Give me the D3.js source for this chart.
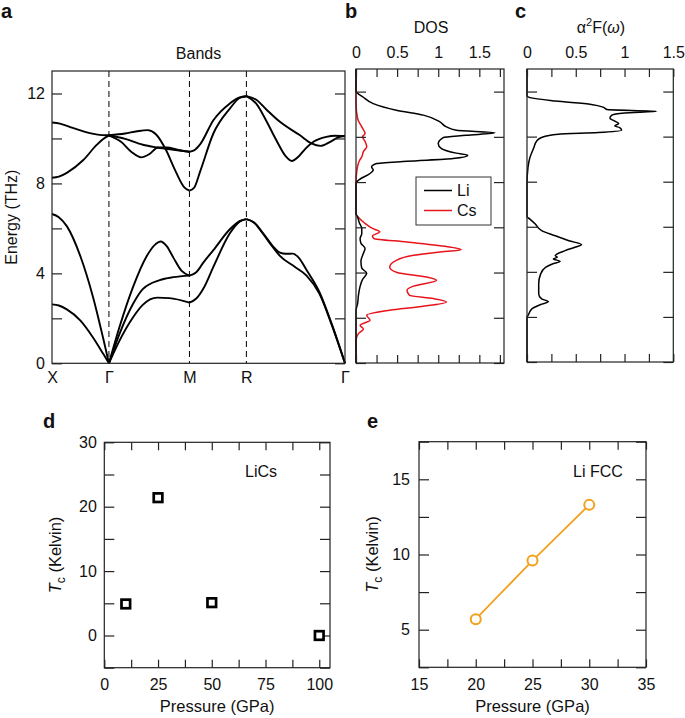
<!DOCTYPE html>
<html><head><meta charset="utf-8">
<script src="https://cdn.jsdelivr.net/npm/d3@7"></script>
<style>body{margin:0;background:#fff} svg{display:block;font-family:"Liberation Sans",Arial,Helvetica,sans-serif}</style>
</head><body><svg id="chart" width="685" height="718"></svg>
<script>
// ---------- DATA ----------
const kLabels = ["X","Γ","M","R","Γ"];
const kNodes = [0, 0.5, 1.2071, 1.7071, 2.5731];
const energyTicks = [0,2,4,6,8,10,12];
const energyLabels = [0,4,8,12];

// band branches per path segment: [fraction along segment, energy THz]
const bandsXG = [
  [[0,10.71],[0.14,10.66],[0.35,10.48],[0.58,10.29],[0.8,10.17],[1,10.14]],
  [[0,8.25],[0.12,8.3],[0.26,8.47],[0.55,9.04],[0.78,9.7],[0.9,9.98],[1,10.14]],
  [[0,6.64],[0.12,6.5],[0.26,6.1],[0.5,4.75],[0.72,2.95],[0.9,1.1],[1,0]],
  [[0,2.62],[0.12,2.57],[0.26,2.4],[0.5,1.9],[0.72,1.15],[0.9,0.42],[1,0]]
];
const bandsGM = [
  [[0,0],[0.13,1.6],[0.3,3.4],[0.465,4.74],[0.58,5.3],[0.64,5.42],[0.72,5.2],[0.8,4.7],[0.9,4.12],[1,3.9]],
  [[0,0],[0.13,1.3],[0.3,2.65],[0.42,3.3],[0.63,3.7],[0.8,3.83],[1,3.9]],
  [[0,0],[0.13,1.0],[0.3,2.05],[0.42,2.6],[0.6,2.92],[0.75,2.9],[1,2.7]],
  [[0,10.14],[0.2,10.22],[0.35,10.32],[0.48,10.37],[0.58,10.2],[0.7,9.55],[0.82,8.6],[0.93,7.85],[1,7.68]],
  [[0,10.14],[0.15,9.85],[0.28,9.4],[0.4,9.16],[0.5,9.3],[0.61,9.6],[0.72,9.6],[0.85,9.5],[1,9.41]],
  [[0,10.14],[0.2,9.98],[0.42,9.72],[0.6,9.6],[0.8,9.5],[1,9.41]]
];
const bandsMR = [
  [[0,7.68],[0.08,7.8],[0.19,8.55],[0.42,10.22],[0.71,11.33],[0.88,11.8],[1,11.88]],
  [[0,9.41],[0.08,9.47],[0.19,9.75],[0.42,10.81],[0.71,11.56],[0.88,11.83],[1,11.88]],
  [[0,3.9],[0.12,4.05],[0.25,4.5],[0.42,5.03],[0.71,5.96],[0.88,6.32],[1,6.41]],
  [[0,2.7],[0.12,2.88],[0.25,3.35],[0.42,4.29],[0.71,5.78],[0.88,6.3],[1,6.41]]
];
const bandsRG = [
  [[0,11.88],[0.1,11.55],[0.2,10.8],[0.3,9.95],[0.4,9.2],[0.46,9.0],[0.53,9.2],[0.6,9.55],[0.68,9.85],[0.81,10.07],[0.9,10.12],[1,10.1]],
  [[0,11.88],[0.1,11.72],[0.2,11.3],[0.34,10.74],[0.54,10.15],[0.66,9.78],[0.75,9.67],[0.85,9.85],[0.93,10.05],[1,10.12]],
  [[0,6.41],[0.08,6.25],[0.17,5.78],[0.28,5.15],[0.34,4.92],[0.4,4.87],[0.47,4.88],[0.53,4.7],[0.61,4.15],[0.74,3.18],[0.87,1.7],[1,0]],
  [[0,6.41],[0.08,6.25],[0.17,5.75],[0.28,5.1],[0.34,4.78],[0.49,4.29],[0.61,3.9],[0.74,3.1],[0.87,1.65],[1,0]]
];

// DOS: [energy THz, value]
const dosLi = [[0,0],[2.3,0],[2.64,0.02],[3.0,0.03],[3.39,0.05],[3.7,0.08],[3.97,0.13],[4.2,0.07],[4.5,0.06],[4.85,0.09],[5.06,0.11],[5.3,0.06],[5.5,0.05],[5.72,0.07],[5.95,0.07],[6.2,0.04],[6.45,0.02],[6.6,0],[7.96,0],[8.08,0.03],[8.38,0.17],[8.53,0.21],[8.67,0.19],[8.82,0.25],[8.92,0.62],[9.04,1.18],[9.19,1.36],[9.28,1.22],[9.48,1.04],[9.7,1.0],[9.97,1.06],[10.07,1.34],[10.18,1.69],[10.29,1.22],[10.44,1.10],[10.66,1.02],[10.96,0.82],[11.18,0.49],[11.47,0.21],[11.75,0.09],[12.03,0],[13,0]];
const dosCs = [[0,0],[1.0,0],[1.3,0.03],[1.5,0.09],[1.67,0.05],[1.89,0.17],[2.11,0.13],[2.33,0.41],[2.5,0.8],[2.7,1.10],[2.85,0.94],[3.0,0.65],[3.22,0.62],[3.4,0.7],[3.66,0.98],[3.8,0.86],[4.0,0.5],[4.25,0.41],[4.54,0.49],[4.76,0.70],[4.9,1.0],[5.01,1.28],[5.13,1.14],[5.35,0.62],[5.5,0.22],[5.62,0.2],[5.8,0.29],[5.95,0.2],[6.2,0.1],[6.4,0.04],[6.6,0],[7.96,0],[8.5,0.01],[9.0,0.05],[9.11,0.07],[9.35,0.09],[9.56,0.13],[9.8,0.11],[10.0,0.08],[10.15,0.11],[10.44,0.07],[10.8,0.02],[11.5,0],[13,0]];
const dosTicks = [0,0.25,0.5,0.75,1,1.25,1.5,1.75];
const dosLabels = [0,0.5,1,1.5];

// alpha^2 F(omega): [energy THz, value]
const a2F = [[0,0],[1.99,0],[2.06,0.01],[2.36,0.05],[2.55,0.14],[2.68,0.22],[2.8,0.15],[3.02,0.12],[3.47,0.12],[3.91,0.14],[4.2,0.19],[4.35,0.26],[4.47,0.34],[4.57,0.27],[4.65,0.31],[4.72,0.29],[4.94,0.39],[5.09,0.49],[5.21,0.56],[5.38,0.43],[5.6,0.29],[5.83,0.15],[6.12,0.085],[6.34,0.03],[6.45,0],[7.89,0],[8.63,0.01],[9.07,0.03],[9.51,0.07],[9.81,0.10],[9.96,0.15],[10.1,0.32],[10.18,0.73],[10.28,0.97],[10.4,0.95],[10.47,0.90],[10.58,0.94],[10.69,0.90],[10.81,0.85],[10.95,0.87],[11.05,1.0],[11.12,1.33],[11.2,0.82],[11.31,0.78],[11.43,0.66],[11.58,0.29],[11.73,0.03],[11.8,0],[13,0]];
const a2fTicks = [0,0.25,0.5,0.75,1,1.25,1.5];
const a2fLabels = [0,0.5,1,1.5];

// Panel d: LiCs Tc vs pressure
const licsPressure = [10, 25, 50, 100];
const licsTc = [4.9, 21.4, 5.1, 0];
const dXTicks = [0,12.5,25,37.5,50,62.5,75,87.5,100];
const dXLabels = [0,25,50,75,100];
const dYTicks = [-5,0,5,10,15,20,25,30];
const dYLabels = [0,10,20,30];

// Panel e: Li FCC Tc vs pressure
const liPressure = [20, 25, 30];
const liTc = [5.7, 9.6, 13.3];
const eXTicks = [15,17.5,20,22.5,25,27.5,30,32.5,35];
const eXLabels = [15,20,25,30,35];
const eYTicks = [2.5,5,7.5,10,12.5,15,17.5];
const eYLabels = [5,10,15];

// ---------- DRAW ----------
const svg = d3.select("#chart");
const FS = 16;
const frameColor = "#222";

function frame(x0,y0,x1,y1){
  svg.append("rect").attr("x",x0).attr("y",y0).attr("width",x1-x0).attr("height",y1-y0)
    .attr("fill","none").attr("stroke",frameColor).attr("stroke-width",1.2);
}
function axis(gen, tx, ty){
  const g = svg.append("g").attr("transform",`translate(${tx},${ty})`).call(gen);
  g.select(".domain").remove();
  g.selectAll(".tick line").attr("stroke",frameColor).attr("stroke-width",1.2);
  g.selectAll("text").attr("font-size",FS).attr("fill","#111")
    .attr("font-family",'"Liberation Sans",Arial,Helvetica,sans-serif');
  return g;
}
const fmt = labels => d => labels.includes(d) ? String(d) : "";
function txt(x,y,s,opts={}){
  const t = svg.append("text").attr("x",x).attr("y",y).text(s).attr("font-size",opts.size||FS).attr("fill","#111");
  if(opts.anchor) t.attr("text-anchor",opts.anchor);
  if(opts.bold) t.attr("font-weight","bold");
  return t;
}

// ===== Panel a: bands =====
const A = {x0:52,x1:345,y0:71,y1:363.3};
const xA = d3.scaleLinear().domain([kNodes[0], kNodes[4]]).range([A.x0, A.x1]);
const yA = d3.scaleLinear().domain([0,13]).range([A.y1, A.y0]);
const bandLine = d3.line().x(d=>xA(d[0])).y(d=>yA(d[1])).curve(d3.curveMonotoneX);
[bandsXG, bandsGM, bandsMR, bandsRG].forEach((seg,i)=>{
  const k0 = kNodes[i], k1 = kNodes[i+1];
  seg.forEach(branch=>{
    const pts = branch.map(p=>[k0 + p[0]*(k1-k0), p[1]]);
    svg.append("path").attr("d",bandLine(pts)).attr("fill","none").attr("stroke","#000").attr("stroke-width",1.9);
  });
});
[1,2,3].forEach(i=>{
  svg.append("line").attr("x1",xA(kNodes[i])).attr("x2",xA(kNodes[i])).attr("y1",A.y0).attr("y2",A.y1)
    .attr("stroke","#000").attr("stroke-width",1).attr("stroke-dasharray","6,4");
});
frame(A.x0,A.y0,A.x1,A.y1);
axis(d3.axisLeft(yA).tickValues(energyTicks).tickSizeInner(-10).tickSizeOuter(0).tickPadding(7).tickFormat(fmt(energyLabels)), A.x0, 0);
axis(d3.axisRight(yA).tickValues(energyTicks).tickSizeInner(-10).tickSizeOuter(0).tickFormat(""), A.x1, 0);
axis(d3.axisBottom(xA).tickValues(kNodes).tickSize(0).tickPadding(8).tickFormat((d,i)=>kLabels[i]), 0, A.y1);
txt((A.x0+A.x1)/2, 59, "Bands", {anchor:"middle"});
txt(0, 0, "Energy (THz)", {anchor:"middle"}).attr("transform",`translate(17,${(A.y0+A.y1)/2}) rotate(-90)`);
txt(1, 18, "a", {bold:true, size:20});

// ===== Panel b: DOS =====
const B = {x0:356,x1:504,y0:69,y1:363};
const xB = d3.scaleLinear().domain([0,1.8]).range([B.x0,B.x1]);
const yB = d3.scaleLinear().domain([0,13]).range([B.y1,B.y0]);
const dosLine = d3.line().x(d=>xB(d[1])).y(d=>yB(d[0])).curve(d3.curveMonotoneY);
svg.append("path").attr("d",dosLine(dosCs)).attr("fill","none").attr("stroke","#e8141b").attr("stroke-width",1.5);
svg.append("path").attr("d",dosLine(dosLi)).attr("fill","none").attr("stroke","#000").attr("stroke-width",1.5);
frame(B.x0,B.y0,B.x1,B.y1);
axis(d3.axisTop(xB).tickValues(dosTicks).tickSizeInner(-8).tickSizeOuter(0).tickPadding(11).tickFormat(fmt(dosLabels)), 0, B.y0);
axis(d3.axisBottom(xB).tickValues(dosTicks).tickSizeInner(-8).tickSizeOuter(0).tickFormat(""), 0, B.y1);
axis(d3.axisLeft(yB).tickValues(energyTicks).tickSizeInner(-10).tickSizeOuter(0).tickFormat(""), B.x0, 0);
axis(d3.axisRight(yB).tickValues(energyTicks).tickSizeInner(-10).tickSizeOuter(0).tickFormat(""), B.x1, 0);
txt(431, 33, "DOS", {anchor:"middle"});
txt(345, 18, "b", {bold:true, size:20});
// legend
svg.append("rect").attr("x",416).attr("y",177).attr("width",75).attr("height",48)
  .attr("fill","#fff").attr("stroke","#333").attr("stroke-width",1);
svg.append("line").attr("x1",424).attr("x2",452).attr("y1",190.5).attr("y2",190.5).attr("stroke","#000").attr("stroke-width",1.5);
svg.append("line").attr("x1",424).attr("x2",452).attr("y1",210.5).attr("y2",210.5).attr("stroke","#e8141b").attr("stroke-width",1.5);
txt(457, 196, "Li");
txt(457, 216, "Cs");

// ===== Panel c: a2F =====
const C = {x0:527,x1:673.3,y0:69,y1:362};
const xC = d3.scaleLinear().domain([0,1.5]).range([C.x0,C.x1]);
const yC = d3.scaleLinear().domain([0,13]).range([C.y1,C.y0]);
const a2fLine = d3.line().x(d=>xC(d[1])).y(d=>yC(d[0])).curve(d3.curveMonotoneY);
svg.append("path").attr("d",a2fLine(a2F)).attr("fill","none").attr("stroke","#000").attr("stroke-width",1.5);
frame(C.x0,C.y0,C.x1,C.y1);
axis(d3.axisTop(xC).tickValues(a2fTicks).tickSizeInner(-8).tickSizeOuter(0).tickPadding(11).tickFormat(fmt(a2fLabels)), 0, C.y0);
axis(d3.axisBottom(xC).tickValues(a2fTicks).tickSizeInner(-8).tickSizeOuter(0).tickFormat(""), 0, C.y1);
axis(d3.axisLeft(yC).tickValues(energyTicks).tickSizeInner(-10).tickSizeOuter(0).tickFormat(""), C.x0, 0);
axis(d3.axisRight(yC).tickValues(energyTicks).tickSizeInner(-10).tickSizeOuter(0).tickFormat(""), C.x1, 0);
{
  const t = txt(601, 33, "", {anchor:"middle"});
  t.append("tspan").text("α");
  t.append("tspan").text("2").attr("font-size",11).attr("dy",-7);
  t.append("tspan").text("F(").attr("dy",7);
  t.append("tspan").text("ω").attr("font-style","italic");
  t.append("tspan").text(")");
}
txt(515, 18, "c", {bold:true, size:20});

// ===== Panel d: LiCs Tc =====
const D = {x0:104.3,x1:330,y0:442.3,y1:667.7};
const xD = d3.scaleLinear().domain([0,105]).range([D.x0,D.x1]);
const yD = d3.scaleLinear().domain([-5,30]).range([D.y1,D.y0]);
frame(D.x0,D.y0,D.x1,D.y1);
axis(d3.axisBottom(xD).tickValues(dXTicks).tickSizeInner(-8).tickSizeOuter(0).tickPadding(11).tickFormat(fmt(dXLabels)), 0, D.y1);
axis(d3.axisTop(xD).tickValues(dXTicks).tickSizeInner(-8).tickSizeOuter(0).tickFormat(""), 0, D.y0);
axis(d3.axisLeft(yD).tickValues(dYTicks).tickSizeInner(-10).tickSizeOuter(0).tickPadding(7.5).tickFormat(fmt(dYLabels)), D.x0, 0);
axis(d3.axisRight(yD).tickValues(dYTicks).tickSizeInner(-10).tickSizeOuter(0).tickFormat(""), D.x1, 0);
const sq = 8.6;
svg.append("g").selectAll("rect").data(licsPressure).join("rect")
  .attr("x",(d)=>xD(d)-sq/2).attr("y",(d,i)=>yD(licsTc[i])-sq/2).attr("width",sq).attr("height",sq)
  .attr("fill","#fff").attr("stroke","#000").attr("stroke-width",2.7);
txt(245, 477, "LiCs");
txt((D.x0+D.x1)/2, 712, "Pressure (GPa)", {anchor:"middle", size:16.5});
function tcLabel(x,y){
  const t = txt(0,0,"",{anchor:"middle",size:16.5}).attr("transform",`translate(${x},${y}) rotate(-90)`);
  t.append("tspan").text("T").attr("font-style","italic");
  t.append("tspan").text("c").attr("font-size",12).attr("dy",4);
  t.append("tspan").text(" (Kelvin)").attr("dy",-4);
}
tcLabel(61, (D.y0+D.y1)/2);
txt(43, 428, "d", {bold:true, size:20});

// ===== Panel e: Li FCC Tc =====
const E = {x0:419,x1:646,y0:441.7,y1:667.3};
const xE = d3.scaleLinear().domain([15,35]).range([E.x0,E.x1]);
const yE = d3.scaleLinear().domain([2.5,17.5]).range([E.y1,E.y0]);
frame(E.x0,E.y0,E.x1,E.y1);
axis(d3.axisBottom(xE).tickValues(eXTicks).tickSizeInner(-8).tickSizeOuter(0).tickPadding(11).tickFormat(fmt(eXLabels)), 0, E.y1);
axis(d3.axisLeft(yE).tickValues(eYTicks).tickSizeInner(-10).tickSizeOuter(0).tickPadding(9).tickFormat(fmt(eYLabels)), E.x0, 0);
axis(d3.axisRight(yE).tickValues(eYTicks).tickSizeInner(-10).tickSizeOuter(0).tickFormat(""), E.x1, 0);
axis(d3.axisTop(xE).tickValues(eXTicks).tickSizeInner(-8).tickSizeOuter(0).tickFormat(""), 0, E.y0);
const orange = "#F2A01E";
const liPts = liPressure.map((p,i)=>[p, liTc[i]]);
svg.append("path").attr("d", d3.line().x(d=>xE(d[0])).y(d=>yE(d[1]))(liPts))
  .attr("fill","none").attr("stroke",orange).attr("stroke-width",1.8);
svg.append("g").selectAll("circle").data(liPts).join("circle")
  .attr("cx",d=>xE(d[0])).attr("cy",d=>yE(d[1])).attr("r",5)
  .attr("fill","#fff").attr("stroke",orange).attr("stroke-width",2);
txt(573, 477, "Li FCC");
txt((E.x0+E.x1)/2, 712, "Pressure (GPa)", {anchor:"middle", size:16.5});
tcLabel(378, (E.y0+E.y1)/2);
txt(367, 428, "e", {bold:true, size:20});
</script></body></html>
